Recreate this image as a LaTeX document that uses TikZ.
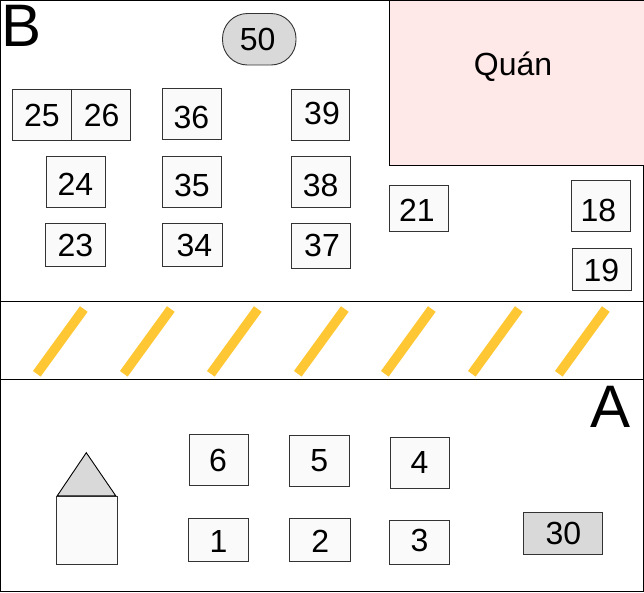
\documentclass[tikz,border=0pt]{standalone}
\usepackage{fontspec}
\setmainfont{Liberation Sans}
\definecolor{seatfill}{HTML}{FAFAFA}
\definecolor{greyfill}{HTML}{D9D9D9}
\definecolor{shopfill}{HTML}{FFE8E8}
\definecolor{stripeyellow}{HTML}{FFC733}
\tikzset{
  seat/.style={draw=black!80,line width=0.9pt,fill=seatfill,inner sep=0pt},
  num/.style={inner sep=0pt,font=\fontsize{32}{36}\selectfont},
  bigletter/.style={inner sep=0pt,font=\fontsize{60}{60}\selectfont},
  stripe/.style={stripeyellow,line width=9.5pt}
}
\begin{document}
\begin{tikzpicture}[x=1pt,y=-1pt]
      \useasboundingbox (0,0) rectangle (644,592);
      % frame and road
      \draw[line width=1pt] (0.5,0.5) rectangle (643.5,591);
      \coordinate (roadtopl) at (0,301);
      \coordinate (roadtopr) at (644,301);
      \coordinate (roadbotl) at (0,379);
      \coordinate (roadbotr) at (644,379);
      \draw[line width=1pt] (roadtopl) -- (roadtopr);
      \draw[line width=1pt] (roadbotl) -- (roadbotr);
      \draw[stripe] (36.8,373.8) -- (83.8,309);
      \draw[stripe] (123.8,373.8) -- (170.8,309);
      \draw[stripe] (210.8,373.8) -- (257.8,309);
      \draw[stripe] (297.8,373.8) -- (344.8,309);
      \draw[stripe] (384.8,373.8) -- (431.8,309);
      \draw[stripe] (471.8,373.8) -- (518.8,309);
      \draw[stripe] (558.8,373.8) -- (605.8,309);
      % shop
      \node[draw=black,line width=1pt,fill=shopfill,minimum width=254.5pt,minimum height=165pt] (shop) at (516.75,82.5) {};
      \node[num,anchor=base] (shoptext) at (513,75) {Quán};
      % side letters
      \node[bigletter] (sideb) at (21.5,25.5) {B};
      \node[bigletter] (sidea) at (610.7,406.7) {A};
      % side B
      \node[seat,fill=greyfill,rounded corners=25pt,minimum width=73.5pt,minimum height=51.5pt] (s50) at (259.25,39.25) {};
      \node[num] (t50) at (257.7,39.3) {50};
      \node[seat,minimum width=59pt,minimum height=51.5pt] (s25) at (42,114.75) {};
      \node[num] (t25) at (41.8,115) {25};
      \node[seat,minimum width=59pt,minimum height=51.5pt] (s26) at (101,114.75) {};
      \node[num] (t26) at (101.7,115) {26};
      \node[seat,minimum width=59pt,minimum height=51pt] (s36) at (192,114) {};
      \node[num] (t36) at (191.3,117.5) {36};
      \node[seat,minimum width=58.5pt,minimum height=51pt] (s39) at (320.25,114.5) {};
      \node[num] (t39) at (322,113) {39};
      \node[seat,minimum width=59pt,minimum height=51pt] (s24) at (76,181.5) {};
      \node[num] (t24) at (75.3,184) {24};
      \node[seat,minimum width=59pt,minimum height=51pt] (s35) at (192,181.5) {};
      \node[num] (t35) at (192,185) {35};
      \node[seat,minimum width=59pt,minimum height=51pt] (s38) at (320.5,181.5) {};
      \node[num] (t38) at (320.7,185) {38};
      \node[seat,minimum width=60pt,minimum height=43.5pt] (s23) at (75.5,244.75) {};
      \node[num] (t23) at (75.3,245) {23};
      \node[seat,minimum width=60pt,minimum height=43.5pt] (s34) at (192.5,244.75) {};
      \node[num] (t34) at (194.5,245) {34};
      \node[seat,minimum width=59pt,minimum height=45.5pt] (s37) at (320.5,245.75) {};
      \node[num] (t37) at (322,245) {37};
      \node[seat,minimum width=58.6pt,minimum height=45.5pt] (s21) at (419,208.25) {};
      \node[num] (t21) at (416.8,210) {21};
      \node[seat,minimum width=58.6pt,minimum height=50.5pt] (s18) at (601,205.75) {};
      \node[num] (t18) at (598.3,210.7) {18};
      \node[seat,minimum width=58.8pt,minimum height=42pt] (s19) at (602.1,269) {};
      \node[num] (t19) at (601.3,270.7) {19};
      % side A
      \node[seat,minimum width=60.5pt,minimum height=68pt] (house) at (86.75,530) {};
      \coordinate (roof) at (86.3,452.7);
      \draw[line width=0.9pt,fill=greyfill] (57.3,495.7) -- (roof) -- (115.7,495.7) -- cycle;
      \node[seat,minimum width=59pt,minimum height=51pt] (s6) at (219,459.8) {};
      \node[num] (t6) at (218,460.3) {6};
      \node[seat,minimum width=59.5pt,minimum height=51pt] (s5) at (319.25,460.5) {};
      \node[num] (t5) at (319.3,460.3) {5};
      \node[seat,minimum width=59pt,minimum height=51pt] (s4) at (419.8,463) {};
      \node[num] (t4) at (419.6,462.7) {4};
      \node[seat,minimum width=60pt,minimum height=43pt] (s1) at (218.5,540) {};
      \node[num] (t1) at (218.4,541) {1};
      \node[seat,minimum width=60.5pt,minimum height=43.5pt] (s2) at (319.75,539.75) {};
      \node[num] (t2) at (320.3,541) {2};
      \node[seat,minimum width=60pt,minimum height=43.5pt] (s3) at (419.5,542.25) {};
      \node[num] (t3) at (419.6,540.3) {3};
      \node[seat,fill=greyfill,minimum width=79.4pt,minimum height=42pt] (s30) at (563,533) {};
      \node[num] (t30) at (563.4,533) {30};
\end{tikzpicture}
\end{document}
